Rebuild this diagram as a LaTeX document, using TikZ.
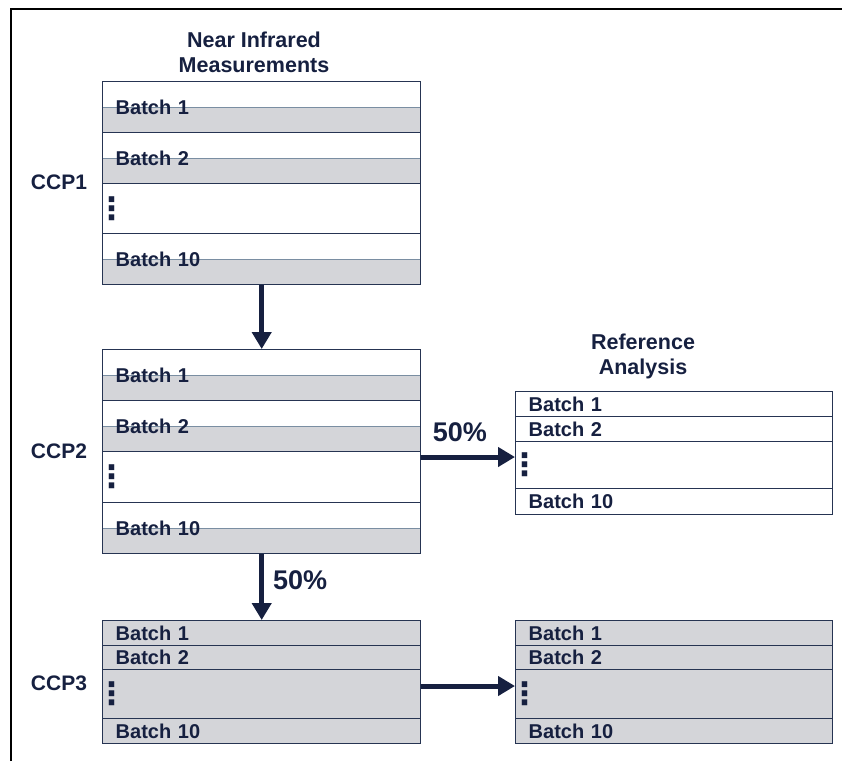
\documentclass[tikz,border=0pt]{standalone}
\usepackage{fontspec}
\setmainfont{Liberation Sans}
\newfontfamily\symfont{DejaVu Sans}
\usepackage{xcolor}
\usetikzlibrary{
  arrows.meta,
  positioning
}
\definecolor{navy}{RGB}{22, 32, 64}
\definecolor{rowline}{RGB}{38, 52, 82}
\definecolor{shadegray}{RGB}{212, 213, 217}
\definecolor{midline}{RGB}{122, 142, 162}

\tikzset{
  batchrow/.style={rectangle, draw=rowline, line width=1.4pt, anchor=north west,
    minimum width=318pt, text width=292pt, inner xsep=13pt, inner ysep=0pt,
    align=left, font=\fontsize{20}{24}\selectfont\bfseries, text=navy},
  whiterow/.style={batchrow, fill=white},
  greyrow/.style={batchrow, fill=shadegray},
  halfrow/.style={batchrow, fill=white,
    path picture={
      \fill[shadegray] (path picture bounding box.west) rectangle (path picture bounding box.south east);
      \draw[midline, line width=1pt] (path picture bounding box.west) -- (path picture bounding box.east);
    }},
  narrowrow/.style={minimum width=317pt, text width=291pt},
  vdotsmark/.style={font=\symfont\bfseries\fontsize{31}{34}\selectfont, text=navy, inner sep=0pt, anchor=center},
  headline/.style={font=\fontsize{21.5}{25}\selectfont\bfseries, text=navy, align=center},
  ccplabel/.style={font=\fontsize{21}{25}\selectfont\bfseries, text=navy},
  pct/.style={font=\fontsize{27}{32}\selectfont\bfseries, text=navy, inner sep=0pt},
  flowarrow/.style={draw=navy, line width=5pt, -{Triangle[width=19pt, length=17pt]}}
}

\begin{document}
\begin{tikzpicture}[x=1pt, y=-1pt]
  \useasboundingbox (0,0) rectangle (842,761);
  \draw[line width=2.2pt, black] (11,761) -- (11,9) -- (842,9);

  % headings
  \node[headline] (t1) at (254,52) {Near Infrared\\Measurements};
  \node[headline] (t2) at (643,356) {Reference\\Analysis};

  % CCP1
  \node[halfrow, minimum height=51pt] (r11) at (102,81) {Batch 1};
  \node[halfrow, minimum height=51pt] (r12) at (102,132) {Batch 2};
  \node[whiterow, minimum height=50pt] (r13) at (102,183) {};
  \node[halfrow, minimum height=51pt] (r14) at (102,233) {Batch 10};
  \node[vdotsmark] (d1) at ([xshift=10pt]r13.west) {⋮};
  \node[ccplabel] (c1) at (59,182) {CCP1};

  % CCP2
  \node[halfrow, minimum height=51pt] (r21) at (102,349) {Batch 1};
  \node[halfrow, minimum height=51pt] (r22) at (102,400) {Batch 2};
  \node[whiterow, minimum height=51pt] (r23) at (102,451) {};
  \node[halfrow, minimum height=51pt] (r24) at (102,502) {Batch 10};
  \node[vdotsmark] (d2) at ([xshift=10pt]r23.west) {⋮};
  \node[ccplabel] (c2) at (59,451) {CCP2};

  % CCP3
  \node[greyrow, minimum height=24.5pt] (r31) at (102,620) {Batch 1};
  \node[greyrow, minimum height=24.5pt] (r32) at (102,644.5) {Batch 2};
  \node[greyrow, minimum height=49pt] (r33) at (102,669) {};
  \node[greyrow, minimum height=24.5pt] (r34) at (102,718) {Batch 10};
  \node[vdotsmark] (d3) at ([xshift=10pt]r33.west) {⋮};
  \node[ccplabel] (c3) at (59,683) {CCP3};

  % reference analysis
  \node[whiterow, narrowrow, minimum height=25pt] (r41) at (515,391) {Batch 1};
  \node[whiterow, narrowrow, minimum height=25pt] (r42) at (515,416) {Batch 2};
  \node[whiterow, narrowrow, minimum height=47pt] (r43) at (515,441) {};
  \node[whiterow, narrowrow, minimum height=26pt] (r44) at (515,488) {Batch 10};
  \node[vdotsmark] (d4) at ([xshift=10pt]r43.west) {⋮};

  % reference analysis of CCP3
  \node[greyrow, narrowrow, minimum height=24.5pt] (r51) at (515,620) {Batch 1};
  \node[greyrow, narrowrow, minimum height=24.5pt] (r52) at (515,644.5) {Batch 2};
  \node[greyrow, narrowrow, minimum height=49pt] (r53) at (515,669) {};
  \node[greyrow, narrowrow, minimum height=24.5pt] (r54) at (515,718) {Batch 10};
  \node[vdotsmark] (d5) at ([xshift=10pt]r53.west) {⋮};

  % arrows
  \draw[flowarrow] (r14.south) -- (r21.north);
  \coordinate (s2) at ([yshift=-6pt]r23.north east);
  \draw[flowarrow] (s2) -- node[pct, pos=0.41, above=13pt] (p1) {50\%} (s2 -| r43.west);
  \draw[flowarrow] (r24.south) -- node[pct, pos=0.4, right=9pt] (p2) {50\%} (r31.north);
  \coordinate (s4) at ([yshift=-17pt]r33.north east);
  \draw[flowarrow] (s4) -- (s4 -| r53.west);
\end{tikzpicture}
\end{document}
